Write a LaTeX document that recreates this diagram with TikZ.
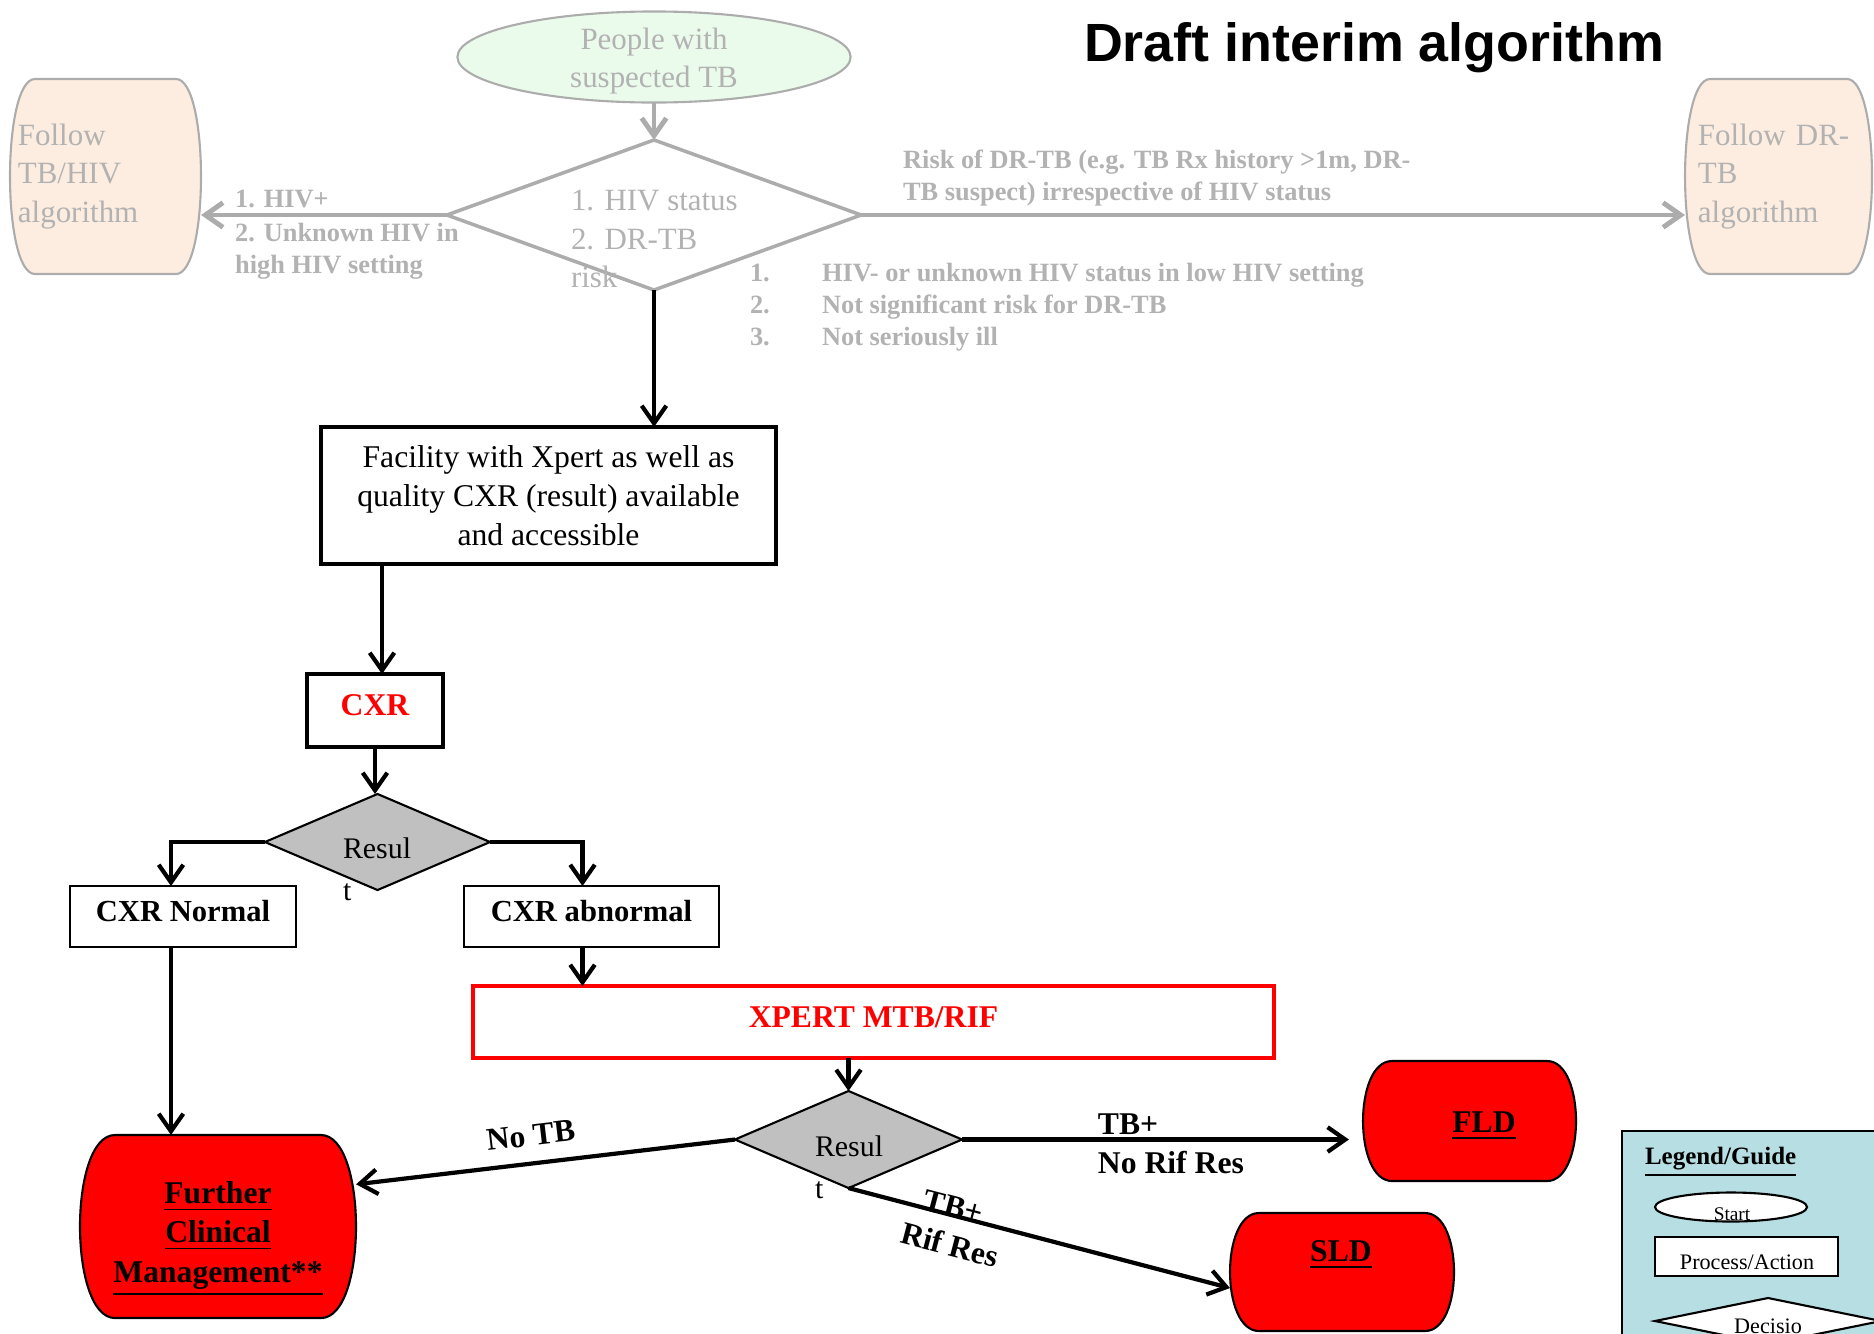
\documentclass[tikz,border=0pt]{standalone}
\usepackage{fontspec}
\setmainfont{Liberation Serif}
\newfontfamily\titlefont{Liberation Sans}
\usetikzlibrary{arrows.meta,shapes.geometric,calc}
\definecolor{ggray}{RGB}{172,172,172}
\definecolor{gtext}{RGB}{178,178,178}
\definecolor{startgreen}{RGB}{235,251,235}
\definecolor{peach}{RGB}{253,237,224}
\definecolor{dgray}{RGB}{192,192,192}
\definecolor{legteal}{RGB}{183,222,226}
% barrel-shaped terminal: style, left x, top y, right x, bottom y, corner depth
\newcommand{\barrel}[6]{\path[#1] ({#2+#6},#3) -- ({#4-#6},#3) .. controls ({#4+#6/3},#3) and ({#4+#6/3},#5) .. ({#4-#6},#5) -- ({#2+#6},#5) .. controls ({#2-#6/3},#5) and ({#2-#6/3},#3) .. ({#2+#6},#3) -- cycle;}
\begin{document}
\begin{tikzpicture}[x=0.01cm,y=-0.01cm,
  every node/.style={inner sep=0pt, outer sep=0pt},
  txt/.style={font=\fontsize{9}{11.1}\selectfont},
  btxt/.style={font=\fontsize{9}{11.1}\selectfont\bfseries},
  sbtxt/.style={font=\fontsize{8.7}{11.1}\selectfont\bfseries},
  gtxt/.style={font=\fontsize{8.8}{11}\selectfont, text=gtext},
  glab/.style={font=\fontsize{7.5}{9.1}\selectfont\bfseries, text=gtext},
  restxt/.style={font=\fontsize{8.5}{12}\selectfont, align=left, anchor=west},
  garr/.style={draw=ggray, line width=1.4pt, -{Straight Barb[length=5pt,width=7pt]}},
  barr/.style={draw=black, line width=1.2pt, -{Straight Barb[length=5pt,width=7pt]}},
  thickbox/.style={rectangle, draw, line width=1.1pt, text depth=3pt},
  thinbox/.style={rectangle, draw, line width=0.6pt, text depth=3pt},
  decision/.style={diamond, draw, line width=0.6pt, fill=dgray},
  redterm/.style={fill=red, draw=black, line width=0.6pt},
  peachterm/.style={fill=peach, draw=ggray, line width=0.6pt}]
\useasboundingbox (0,0) rectangle (1874,1333);
\clip (0,0) rectangle (1874,1333);

% title
\node[font=\titlefont\fontsize{15.3}{18}\selectfont\bfseries, anchor=west] (title) at (1084,48) {Draft interim algorithm};

% start
\node[ellipse, draw=ggray, line width=0.6pt, fill=startgreen, minimum width=3.93cm, minimum height=0.91cm] (start) at (654,57) {};
\node[gtxt, align=center] (startt) at (654,61) {People with\\suspected TB};

% first decision
\node[diamond, draw=ggray, line width=1pt, fill=white, minimum width=4.14cm, minimum height=1.5cm] (d1) at (654,215) {};
\node[gtxt, align=left, anchor=west] (d1t) at (571,239) {1. HIV status\\2. DR-TB\\risk};

% follow boxes
\barrel{peachterm}{10}{79}{201}{274}{25}
\node[gtxt, text width=1.75cm, inner xsep=0.08cm, minimum height=1.95cm, align=left] (tbhiv) at (105.5,176.5) {Follow\\TB/HIV\\algorithm};
\barrel{peachterm}{1685}{79}{1872}{274}{25}
\node[gtxt, text width=1.61cm, inner xsep=0.13cm, minimum height=1.95cm, align=left] (drtb) at (1778.5,176.5) {Follow DR-\\TB\\algorithm};

% notes under the right arrow
\node[glab, align=left, anchor=north west] (notes) at (750,263) {\makebox[0.72cm][l]{1.}HIV- or unknown HIV status in low HIV setting\\\makebox[0.72cm][l]{2.}Not significant risk for DR-TB\\\makebox[0.72cm][l]{3.}Not seriously ill};

% facility
\node[rectangle, draw, line width=1.1pt, minimum width=4.55cm, minimum height=1.37cm, txt, align=center] (fac) at (548.5,495.5) {Facility with Xpert as well as\\quality CXR (result) available\\and accessible};

% CXR
\node[thickbox, minimum width=1.36cm, minimum height=0.73cm, btxt, text=red] (cxr) at (375,710.5) {CXR};

% result 1
\node[decision, minimum width=2.25cm, minimum height=0.96cm] (r1) at (377.5,842) {};
\node[restxt] (r1t) at (343,869) {Resul\\t};

\node[thinbox, minimum width=2.26cm, minimum height=0.61cm, sbtxt] (cxrn) at (183,916.5) {CXR Normal};
\node[thinbox, minimum width=2.55cm, minimum height=0.61cm, sbtxt] (cxra) at (591.5,916.5) {CXR abnormal};

% xpert
\node[rectangle, draw=red, line width=1.1pt, text depth=3pt, minimum width=8.01cm, minimum height=0.72cm, btxt, text=red] (xpert) at (873.5,1022) {XPERT MTB/RIF};

% result 2
\node[decision, minimum width=2.27cm, minimum height=0.97cm] (r2) at (848.5,1139.5) {};
\node[restxt] (r2t) at (815,1167) {Resul\\t};

% outcomes
\barrel{redterm}{80}{1135}{356}{1318}{35}
\node[minimum width=2.76cm, minimum height=1.83cm] (fcm) at (218,1226.5) {};
\node[btxt, align=center] (fcmt) at (218,1239) {\underline{Further}\\\underline{Clinical}\\\underline{Management**}};
\barrel{redterm}{1363}{1061}{1576}{1181}{29}
\node[minimum width=2.13cm, minimum height=1.2cm] (fld) at (1469.5,1121) {};
\node[btxt] (fldt) at (1484,1126) {\underline{FLD}};
\barrel{redterm}{1230}{1213}{1454}{1331}{29}
\node[minimum width=2.24cm, minimum height=1.18cm] (sld) at (1342,1272) {};
\node[btxt] (sldt) at (1341,1255) {\underline{SLD}};

% legend
\node[rectangle, draw, line width=0.6pt, fill=legteal, minimum width=2.8cm, minimum height=2.3cm, anchor=north west] (legend) at (1622,1131) {};
\node[font=\fontsize{7.1}{8}\selectfont\bfseries, anchor=west] (legt) at (1645,1162) {\underline{Legend/Guide}};
\node[ellipse, draw, fill=white, line width=0.6pt, minimum width=1.52cm, minimum height=0.29cm] (lstart) at (1731,1207) {};
\node[font=\fontsize{5.5}{6}\selectfont] (lstartt) at (1732,1214) {Start};
\node[rectangle, draw, fill=white, line width=0.6pt, minimum width=1.83cm, minimum height=0.39cm] (lproc) at (1746.5,1256.5) {};
\node[font=\fontsize{6.3}{7}\selectfont] (lproct) at (1747,1262) {Process/Action};
\node[diamond, draw, fill=white, line width=0.6pt, minimum width=2.26cm, minimum height=0.46cm] (ldec) at (1768,1321) {};
\node[font=\fontsize{6.3}{7}\selectfont] (ldect) at (1768,1326) {Decisio};

% connectors
\draw[garr] (start.south) -- (d1.north);
\draw[garr] (d1.west) -- (d1.west -| tbhiv.east)
  node[pos=0.861, anchor=south west, yshift=2pt, glab] {1. HIV+}
  node[pos=0.861, anchor=north west, yshift=-2.3pt, glab, align=left] {2. Unknown HIV in\\high HIV setting};
\draw[garr] (d1.east) -- (d1.east -| drtb.west)
  node[pos=0.051, anchor=south west, yshift=2.5pt, glab, align=left] {Risk of DR-TB (e.g. TB Rx history >1m, DR-\\TB suspect) irrespective of HIV status};
\draw[barr] (d1.south) -- (d1.south |- fac.north);
\draw[barr] ([xshift=0.07cm]cxr.north |- fac.south) -- ([xshift=0.07cm]cxr.north);
\draw[barr] (cxr.south) -- (cxr.south |- r1.north);
\draw[barr] (r1.west) -| ([xshift=-0.12cm]cxrn.north);
\draw[barr] (r1.east) -| ([xshift=-0.09cm]cxra.north);
\draw[barr] ([xshift=-0.12cm]cxrn.south) -- ([xshift=-0.12cm]cxrn.south |- fcm.north);
\draw[barr] ([xshift=-0.09cm]cxra.south) -- ([xshift=-0.09cm]cxra.south |- xpert.north);
\draw[barr] (r2.north |- xpert.south) -- (r2.north);
\draw[barr] (r2.west) -- (fcm.17)
  node[pos=0.53, sloped, above=5pt, btxt] {No TB};
\draw[barr, shorten >=4pt] (r2.east) -- (r2.east -| fld.west)
  node[pos=0.339, anchor=south west, yshift=1.5pt, btxt] {TB+}
  node[pos=0.339, anchor=north west, yshift=-3.3pt, btxt] {No Rif Res};
\draw[barr] (r2.south) -- ([yshift=-0.16cm]sld.west)
  node[pos=0.27, sloped, above=-0.5pt, btxt] {TB+}
  node[pos=0.285, sloped, below=5pt, btxt] {Rif Res};
\end{tikzpicture}
\end{document}
